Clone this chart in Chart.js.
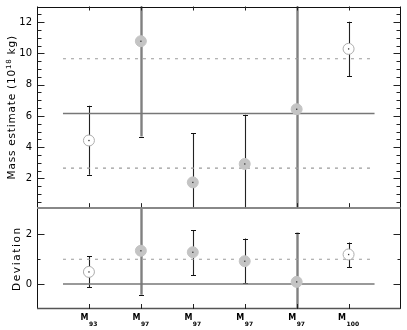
<!DOCTYPE html>
<html><head><meta charset="utf-8">
<script src="https://cdn.jsdelivr.net/npm/chart.js@4"></script>
<style>html,body{margin:0;padding:0;background:#fff}#wrap{width:407px;height:330px;position:relative}</style>
</head><body><div id="wrap"><canvas id="c" width="407" height="330"></canvas></div>
<script>
// ---- data ----
const categories = ['93', '97', '97', '97', '97', '100'];   // subscripts of "M"
const filled = [false, true, true, true, true, false];
const massValue = [4.43, 10.78, 1.75, 2.93, 6.43, 10.29];
const massUpper = [6.65, 14.5, 4.91, 6.08, 14.5, 12.03];
const massLower = [2.23, 4.68, -1, -1, -1, 8.56];
const massMean = 6.15;
const massBand = [2.66, 9.66];
const devValue = [0.49, 1.34, 1.28, 0.92, 0.09, 1.19];
const devUpper = [1.12, 4.0, 2.17, 1.83, 2.07, 1.67];
const devLower = [-0.13, -0.43, 0.36, 0.03, -2.0, 0.68];
const devMean = 0;
const devBand = 1;
const massTicks = [2, 4, 6, 8, 10, 12];
const devTicks = [0, 2];

// ---- styling ----
const thickBars = [1, 4];
const FILL = 'rgb(196,196,196)';
const OPEN = 'rgb(172,172,172)';
const lineSeg = (y) => [{x: 0.5, y}, {x: 6.5, y}];

function refLine(axis, y, dashed) {
  return {type: 'line', yAxisID: axis, data: lineSeg(y), borderColor: dashed ? '#9a9a9a' : '#777',
    borderWidth: dashed ? 1.1 : 1.5, borderDash: dashed ? [3, 5] : [], pointRadius: 0, order: 5};
}
function pts(axis, vals) {
  return {type: 'scatter', yAxisID: axis, data: vals.map((v, i) => ({x: i + 1, y: v})),
    pointRadius: 5.5, pointHoverRadius: 5.5,
    backgroundColor: filled.map(f => f ? FILL : '#fff'),
    borderColor: filled.map(f => f ? FILL : OPEN), borderWidth: 1, order: 1};
}

const errorPlugin = {
  id: 'errs',
  beforeDatasetsDraw(chart) {
    const ctx = chart.ctx, xs = chart.scales.x, ca = chart.chartArea;
    const panels = [[chart.scales.y, massLower, massUpper], [chart.scales.yd, devLower, devUpper]];
    for (const [ys, lo, hi] of panels) {
      ctx.save();
      ctx.beginPath(); ctx.rect(ca.left, ys.top, ca.right - ca.left, ys.bottom - ys.top); ctx.clip();
      for (let i = 0; i < lo.length; i++) {
        const px = Math.round(xs.getPixelForValue(i + 1)) + 0.5;
        const thick = thickBars.includes(i);
        ctx.strokeStyle = thick ? 'rgb(128,128,128)' : '#222';
        ctx.lineWidth = thick ? 2.4 : 1.1;
        ctx.beginPath();
        ctx.moveTo(px, ys.getPixelForValue(hi[i])); ctx.lineTo(px, ys.getPixelForValue(lo[i])); ctx.stroke();
        ctx.strokeStyle = '#111'; ctx.lineWidth = 1.2;
        for (const v of [lo[i], hi[i]]) {
          if (v >= ys.min && v <= ys.max) {
            const py = Math.round(ys.getPixelForValue(v)) + 0.5;
            ctx.beginPath(); ctx.moveTo(px - 2.5, py); ctx.lineTo(px + 2.5, py); ctx.stroke();
          }
        }
      }
      ctx.restore();
    }
  },
  afterDatasetsDraw(chart) {
    const ctx = chart.ctx, xs = chart.scales.x;
    ctx.save(); ctx.fillStyle = '#333';
    [[chart.scales.y, massValue], [chart.scales.yd, devValue]].forEach(([ys, vals]) => {
      vals.forEach((v, i) => {
        const px = xs.getPixelForValue(i + 1), py = ys.getPixelForValue(v);
        ctx.fillRect(px - 0.6, py - 0.6, 1.3, 1.3);
      });
    });
    ctx.restore();
  },
  afterDraw(chart) {
    const ctx = chart.ctx, xs = chart.scales.x, ys = chart.scales.y, yd = chart.scales.yd;
    const L = chart.chartArea.left, R = chart.chartArea.right;
    const T = ys.top, M = ys.bottom, B = yd.bottom;
    ctx.save();
    const seg = (x1, y1, x2, y2, c, w) => { ctx.strokeStyle = c; ctx.lineWidth = w; ctx.beginPath(); ctx.moveTo(x1, y1); ctx.lineTo(x2, y2); ctx.stroke(); };
    const lx = Math.round(L) + 0.5, rx = Math.round(R) - 0.5;
    // frame
    seg(lx, T, lx, B, '#111', 1);
    seg(rx, T, rx, B, '#111', 1);
    seg(L, Math.round(T) + 0.5, R, Math.round(T) + 0.5, '#111', 1);
    seg(L, Math.round(M), R, Math.round(M), '#888', 2);
    seg(L, Math.round(B) - 0.5, R, Math.round(B) - 0.5, '#555', 1.5);
    // y ticks
    for (let v = 0.5; v <= 12.5; v += 0.5) {
      const py = Math.round(ys.getPixelForValue(v)) + 0.5, len = v % 2 === 0 ? 7 : 4;
      seg(lx, py, lx + len, py, '#222', 1); seg(rx - len, py, rx, py, '#222', 1);
    }
    for (let v = 0; v <= 2; v += 1) {
      const py = Math.round(yd.getPixelForValue(v)) + 0.5, len = v % 2 === 0 ? 7 : 3;
      seg(lx, py, lx + len, py, '#222', 1); seg(rx - len, py, rx, py, '#222', 1);
    }
    // x ticks
    for (let i = 1; i <= categories.length; i++) {
      const px = Math.round(xs.getPixelForValue(i)) + 0.5;
      seg(px, T, px, T + 4, '#222', 1);
      seg(px, M - 5, px, M - 1, '#222', 1);
      seg(px, B - 5, px, B, '#222', 1);
    }
    // x labels: M with subscript
    ctx.fillStyle = '#000'; ctx.textBaseline = 'alphabetic'; ctx.textAlign = 'left';
    categories.forEach((sub, i) => {
      const px = xs.getPixelForValue(i + 1);
      ctx.font = 'bold 8px "DejaVu Sans"'; const wM = ctx.measureText('M').width;
      ctx.font = 'bold 6px "DejaVu Sans"'; const wS = ctx.measureText(sub).width;
      const x0 = px - (wM + 0.5 + wS) / 2;
      ctx.font = 'bold 8px "DejaVu Sans"'; ctx.fillText('M', x0, B + 11);
      ctx.font = 'bold 6px "DejaVu Sans"'; ctx.fillText(sub, x0 + wM + 0.5, B + 16.5);
    });
    // y titles
    ctx.save();
    ctx.translate(15, (T + M) / 2); ctx.rotate(-Math.PI / 2);
    ctx.letterSpacing = '0.8px';
    ctx.font = '10.5px "DejaVu Sans"';
    const a = 'Mass estimate (10', c = ' kg)';
    const wa = ctx.measureText(a).width, wc = ctx.measureText(c).width;
    ctx.font = '7px "DejaVu Sans"'; const wb = ctx.measureText('18').width;
    let x = -(wa + wb + wc) / 2;
    ctx.font = '10.5px "DejaVu Sans"'; ctx.fillText(a, x, 0); x += wa;
    ctx.font = '7px "DejaVu Sans"'; ctx.fillText('18', x, -4); x += wb;
    ctx.font = '10.5px "DejaVu Sans"'; ctx.fillText(c, x, 0);
    ctx.restore();
    ctx.save();
    ctx.translate(19.5, (M + B) / 2); ctx.rotate(-Math.PI / 2);
    ctx.letterSpacing = '1.6px';
    ctx.font = '10.5px "DejaVu Sans"'; ctx.textAlign = 'center';
    ctx.fillText('Deviation', 0, 0);
    ctx.restore();
    ctx.restore();
  }
};

const yFit = (s) => { s.width = 37; s.paddingTop = 0; s.paddingBottom = 0; };

new Chart(document.getElementById('c'), {
  type: 'scatter',
  data: {
    datasets: [
      refLine('y', massMean, false), refLine('y', massBand[0], true), refLine('y', massBand[1], true),
      refLine('yd', devMean, false), refLine('yd', devBand, true),
      pts('y', massValue), pts('yd', devValue)
    ]
  },
  options: {
    responsive: false, animation: false, devicePixelRatio: 1,
    layout: {padding: {top: 4, right: 4, bottom: 21, left: 0}},
    plugins: {legend: {display: false}, tooltip: {enabled: false}},
    events: [],
    scales: {
      x: {type: 'linear', min: 0, max: 7, display: false},
      y: {type: 'linear', position: 'left', stack: 'v', stackWeight: 2, weight: 1, min: 0.1, max: 13,
        afterBuildTicks: (s) => { s.ticks = massTicks.map(v => ({value: v})); },
        afterFit: yFit,
        grid: {display: false, drawTicks: false, tickLength: 0}, border: {display: false},
        ticks: {padding: 5, color: '#000', font: {family: 'DejaVu Sans', size: 10}, autoSkip: false}},
      yd: {type: 'linear', position: 'left', stack: 'v', stackWeight: 1, weight: 0, min: -1, max: 3.05,
        afterBuildTicks: (s) => { s.ticks = devTicks.map(v => ({value: v})); },
        afterFit: yFit,
        grid: {display: false, drawTicks: false, tickLength: 0}, border: {display: false},
        ticks: {padding: 5, color: '#000', font: {family: 'DejaVu Sans', size: 10}, autoSkip: false}}
    }
  },
  plugins: [errorPlugin]
});
</script></body></html>
